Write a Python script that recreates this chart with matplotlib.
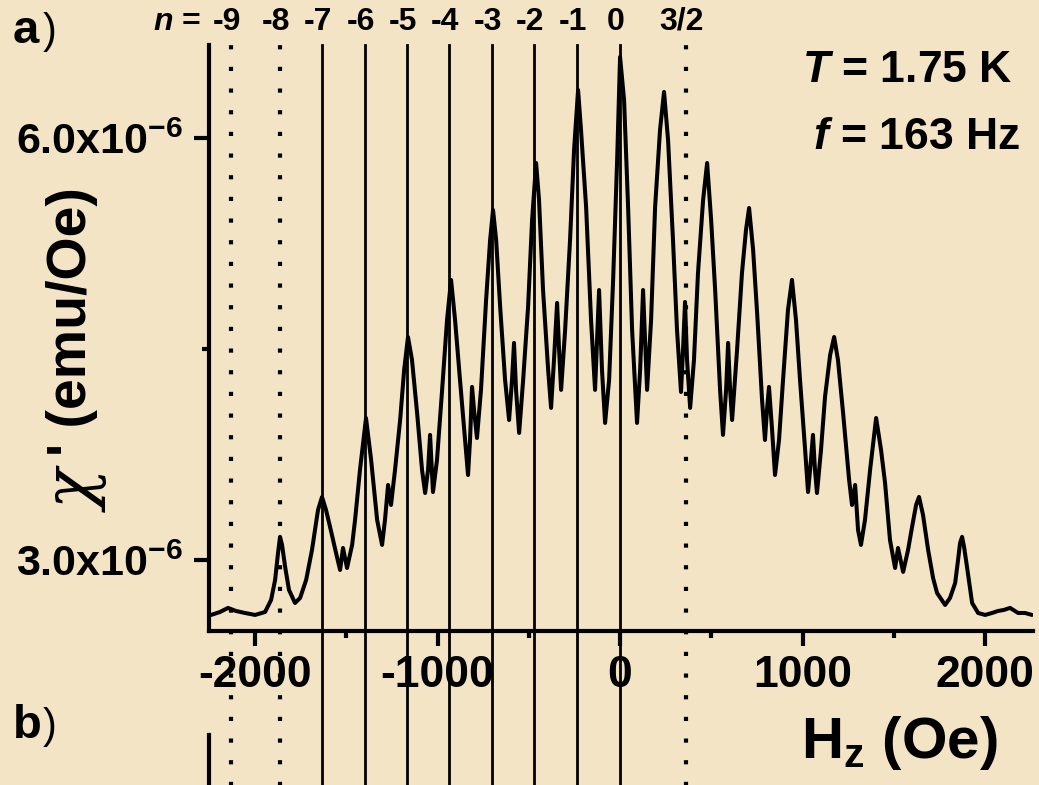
import numpy as np
import matplotlib
matplotlib.use("Agg")
import matplotlib.pyplot as plt
import matplotlib.transforms as mtransforms
from matplotlib.ticker import FixedLocator, FuncFormatter

# field (Oe) and chi' (1e-6 emu/Oe)
field = [-2241, -2192, -2148, -2104, -2055, -2000, -1945, -1912, -1890, -1874,
         -1863, -1852, -1835, -1814, -1781, -1753, -1720, -1688, -1655, -1633,
         -1611, -1589, -1551, -1534, -1518, -1496, -1468, -1452, -1425, -1392,
         -1364, -1331, -1304, -1288, -1271, -1255, -1233, -1205, -1183, -1162,
         -1140, -1112, -1085, -1068, -1052, -1041, -1025, -1003, -975, -948,
         -926, -904, -877, -849, -833, -822, -811, -800, -784, -762,
         -734, -712, -696, -679, -657, -630, -608, -592, -581, -570,
         -553, -531, -504, -482, -460, -444, -422, -394, -378, -362,
         -345, -334, -323, -301, -274, -252, -230, -214, -186, -159,
         -137, -126, -115, -99, -82, -60, -38, -16, 0, 22,
         44, 66, 93, 110, 126, 137, 148, 170, 192, 219,
         241, 263, 290, 312, 334, 345, 356, 367, 384, 405,
         427, 455, 477, 499, 521, 548, 564, 581, 592, 603,
         614, 641, 668, 690, 707, 729, 751, 778, 794, 805,
         816, 833, 849, 871, 893, 920, 942, 964, 986, 1014,
         1030, 1046, 1057, 1068, 1079, 1101, 1123, 1151, 1173, 1194,
         1222, 1255, 1271, 1288, 1304, 1320, 1342, 1370, 1403, 1430,
         1452, 1479, 1507, 1523, 1551, 1578, 1600, 1622, 1638, 1660,
         1688, 1715, 1737, 1781, 1808, 1836, 1852, 1863, 1874, 1885,
         1901, 1929, 1962, 2000, 2038, 2071, 2104, 2137, 2181, 2219,
         2257]
chi = [2.609, 2.630, 2.659, 2.637, 2.623, 2.609, 2.630, 2.716, 2.858, 3.050,
       3.164, 3.107, 2.950, 2.787, 2.694, 2.730, 2.858, 3.071, 3.355, 3.448,
       3.355, 3.235, 3.021, 2.929, 3.085, 2.943, 3.107, 3.284, 3.640, 4.009,
       3.711, 3.284, 3.107, 3.284, 3.533, 3.391, 3.640, 3.995, 4.351, 4.585,
       4.422, 4.045, 3.640, 3.476, 3.640, 3.889, 3.483, 3.711, 4.209, 4.706,
       4.991, 4.706, 4.280, 3.853, 3.604, 3.853, 4.230, 4.066, 3.867, 4.209,
       4.848, 5.275, 5.488, 5.275, 4.799, 4.280, 3.995, 4.280, 4.543, 4.209,
       3.903, 4.280, 4.799, 5.417, 5.822, 5.559, 4.919, 4.351, 4.081, 4.422,
       4.827, 4.493, 4.209, 4.635, 5.275, 5.915, 6.341, 6.057, 5.509, 4.706,
       4.209, 4.564, 4.919, 4.351, 3.974, 4.280, 4.991, 5.844, 6.576, 6.270,
       5.509, 4.635, 3.974, 4.351, 4.919, 4.564, 4.209, 4.706, 5.509, 6.057,
       6.327, 5.986, 5.275, 4.635, 4.194, 4.493, 4.834, 4.422, 4.081, 4.422,
       5.040, 5.559, 5.822, 5.417, 4.919, 4.209, 3.889, 4.209, 4.543, 4.209,
       3.995, 4.493, 5.040, 5.346, 5.502, 5.204, 4.756, 4.137, 3.853, 4.066,
       4.230, 3.924, 3.604, 3.853, 4.280, 4.777, 4.991, 4.706, 4.280, 3.782,
       3.483, 3.711, 3.889, 3.640, 3.476, 3.782, 4.159, 4.457, 4.585, 4.422,
       4.045, 3.569, 3.391, 3.533, 3.213, 3.107, 3.284, 3.640, 4.009, 3.782,
       3.547, 3.142, 2.943, 3.085, 2.915, 3.071, 3.235, 3.391, 3.448, 3.320,
       3.071, 2.872, 2.765, 2.680, 2.730, 2.836, 3.000, 3.121, 3.164, 3.092,
       2.950, 2.694, 2.623, 2.609, 2.623, 2.637, 2.645, 2.659, 2.623, 2.623,
       2.609]

# resonance field positions and labels
res_field = [-2130, -1865, -1635, -1400, -1165, -935, -700, -470, -235, 0, 360]
res_label = ['-9', '-8', '-7', '-6', '-5', '-4', '-3', '-2', '-1', '0', '3/2']
res_dotted = [True, True, False, False, False, False, False, False, False, False, True]

plt.rcParams['font.family'] = ['Liberation Sans', 'DejaVu Sans']
plt.rcParams['axes.unicode_minus'] = False
plt.rcParams['mathtext.fontset'] = 'custom'
plt.rcParams['mathtext.rm'] = 'Liberation Sans:bold'
plt.rcParams['mathtext.bf'] = 'Liberation Sans:bold'
plt.rcParams['mathtext.it'] = 'Liberation Sans:italic:bold'
plt.rcParams['mathtext.default'] = 'bf'

bg = '#F3E4C5'
fig = plt.figure(figsize=(10.39, 7.85), dpi=100, facecolor=bg)
ax = fig.add_axes([0.2012, 0.1962, 0.7931, 0.7465])
ax.set_facecolor('none')

ax.plot(field, np.array(chi) * 1e-6, color='black', lw=2.9,
        solid_joinstyle='round', solid_capstyle='round', zorder=3)

for x, dotted in zip(res_field, res_dotted):
    if dotted:
        ax.axvline(x, ymin=-0.3, ymax=1.0, color='black', lw=3, ls=(0, (1, 4.2)), clip_on=False)
    else:
        ax.axvline(x, ymin=-0.3, ymax=1.0, color='black', lw=2, clip_on=False)

ax.set_xlim(-2252, 2263)
ax.set_ylim(2.495e-6, 6.661e-6)

for s in ['top', 'right']:
    ax.spines[s].set_visible(False)
for s in ['left', 'bottom']:
    ax.spines[s].set_linewidth(3)

ax.xaxis.set_major_locator(FixedLocator([-2000, -1000, 0, 1000, 2000]))
ax.xaxis.set_minor_locator(FixedLocator([-1500, -500, 500, 1500]))
ax.yaxis.set_major_locator(FixedLocator([3e-6, 6e-6]))
ax.yaxis.set_minor_locator(FixedLocator([4.5e-6]))
ax.yaxis.set_major_formatter(FuncFormatter(lambda v, p: '%.1fx10$^{-6}$' % (v * 1e6)))
ax.tick_params(which='major', direction='out', length=11, width=3, labelsize=32, pad=6)
ax.tick_params(which='minor', direction='out', length=5, width=3)
ax.tick_params(axis='y', labelsize=31, pad=8)
for lab in ax.get_xticklabels() + ax.get_yticklabels():
    lab.set_fontweight('bold')

# y label: chi in a serif face, the rest bold sans
fig.text(0.0755, 1 - 462 / 785, r'$\mathit{\chi}$', rotation=90, fontsize=48,
         math_fontfamily='dejavuserif', ha='center', va='top')
fig.text(0.069, 1 - 456 / 785, "' (emu/Oe)", rotation=90, fontsize=40, fontweight='bold',
         ha='center', va='bottom')
fig.text(0.866, 0.035, 'H$_\\mathbf{z}$ (Oe)', fontsize=42, fontweight='bold',
         ha='center', va='baseline')

fig.text(0.873, 0.895, '$\\mathit{T}$ = 1.75 K', fontsize=32, fontweight='bold',
         ha='center', va='baseline')
fig.text(0.882, 0.810, '$\\mathit{f}$ = 163 Hz', fontsize=32, fontweight='bold',
         ha='center', va='baseline')

# panel letters
for y, letter in [(0.945, 'a'), (0.060, 'b')]:
    fig.text(0.012, y, letter, fontsize=34, fontweight='bold', va='baseline')
    fig.text(0.041, y, ')', fontsize=30, va='baseline')

# n labels above the resonance lines
trans = mtransforms.blended_transform_factory(ax.transData, fig.transFigure)
shift = mtransforms.ScaledTranslation(-4 / 100, 0, fig.dpi_scale_trans)
for x, lab in zip(res_field, res_label):
    ax.text(x, 0.962, lab, transform=trans + shift, fontsize=23, fontweight='bold',
            ha='center', va='baseline')
ax.text(-2296, 0.962, '$\\mathit{n}$ =', transform=trans, fontsize=23,
        fontweight='bold', ha='right', va='baseline')

# left spine of the lower panel b)
fig.add_artist(plt.Line2D([0.2012, 0.2012], [0.0, 0.064], color='black', lw=3,
                          transform=fig.transFigure))

fig.savefig('out.png', dpi=100, facecolor=bg)
